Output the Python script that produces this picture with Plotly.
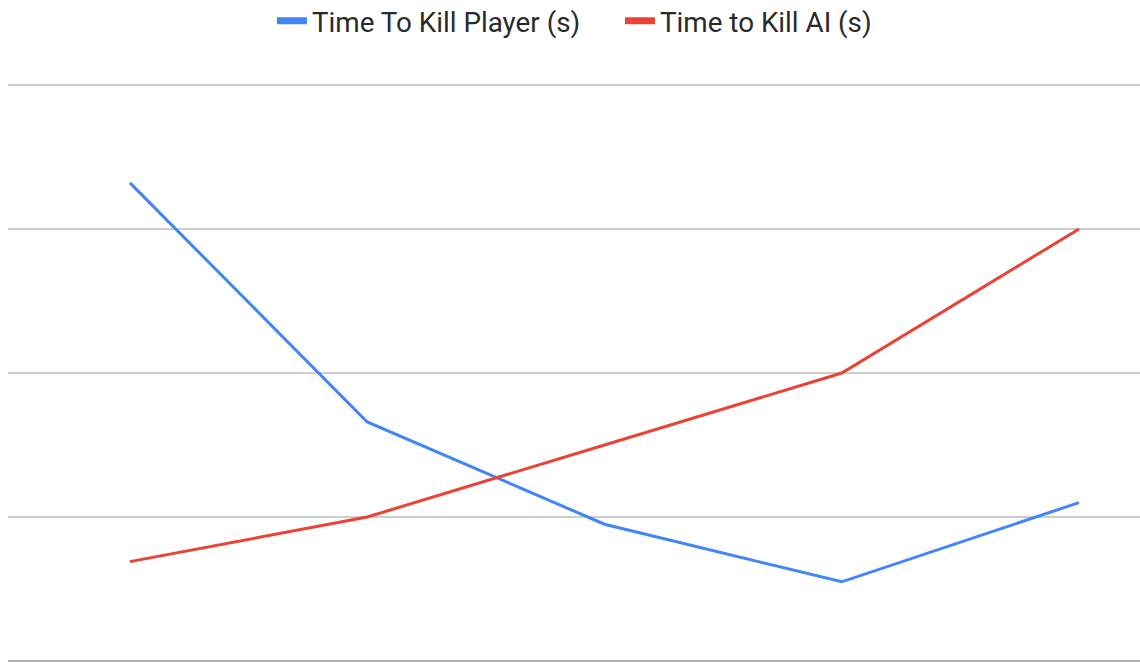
import plotly.graph_objects as go

categories = ["1", "2", "3", "4", "5"]
series_names = ["Time To Kill Player (s)", "Time to Kill AI (s)"]
time_to_kill_player = [3.32, 1.66, 0.95, 0.55, 1.10]
time_to_kill_ai = [0.69, 1.00, 1.50, 2.00, 3.00]
colors = ["#4285F4", "#EA4335"]

x_idx = list(range(len(categories)))

fig = go.Figure()
for name, vals, col in zip(series_names, [time_to_kill_player, time_to_kill_ai], colors):
    fig.add_trace(go.Scatter(x=x_idx, y=vals, mode="lines", name=name,
                             showlegend=False, legendgroup=name,
                             line=dict(color=col, width=3)))
for name, col in zip(series_names, colors):
    # legend-only entries with a thick short swatch
    fig.add_trace(go.Scatter(x=[None], y=[None], mode="lines", name=name,
                             legendgroup=name, line=dict(color=col, width=7)))

fig.update_layout(
    width=1140, height=662,
    margin=dict(l=8, r=0, t=60, b=1),
    paper_bgcolor="white", plot_bgcolor="white",
    font=dict(family="Roboto, Arial, sans-serif", size=27.8, color="#2a2a2a"),
    showlegend=True,
    legend=dict(orientation="h", x=0.2332, xanchor="left", y=0.968, yanchor="middle",
                yref="container", entrywidth=303, entrywidthmode="pixels",
                font=dict(size=27.8, color="#2a2a2a")),
    xaxis=dict(range=[-0.514, 4.257], showgrid=False, zeroline=False,
               showticklabels=False, ticks="", showline=False),
    yaxis=dict(range=[0, 4.1736], dtick=1, showgrid=True, gridcolor="#cccccc", gridwidth=1.5,
               zeroline=True, zerolinecolor="#b0b0b0", zerolinewidth=2,
               showticklabels=False, ticks="", showline=False),
)
fig.write_html("out.html")
